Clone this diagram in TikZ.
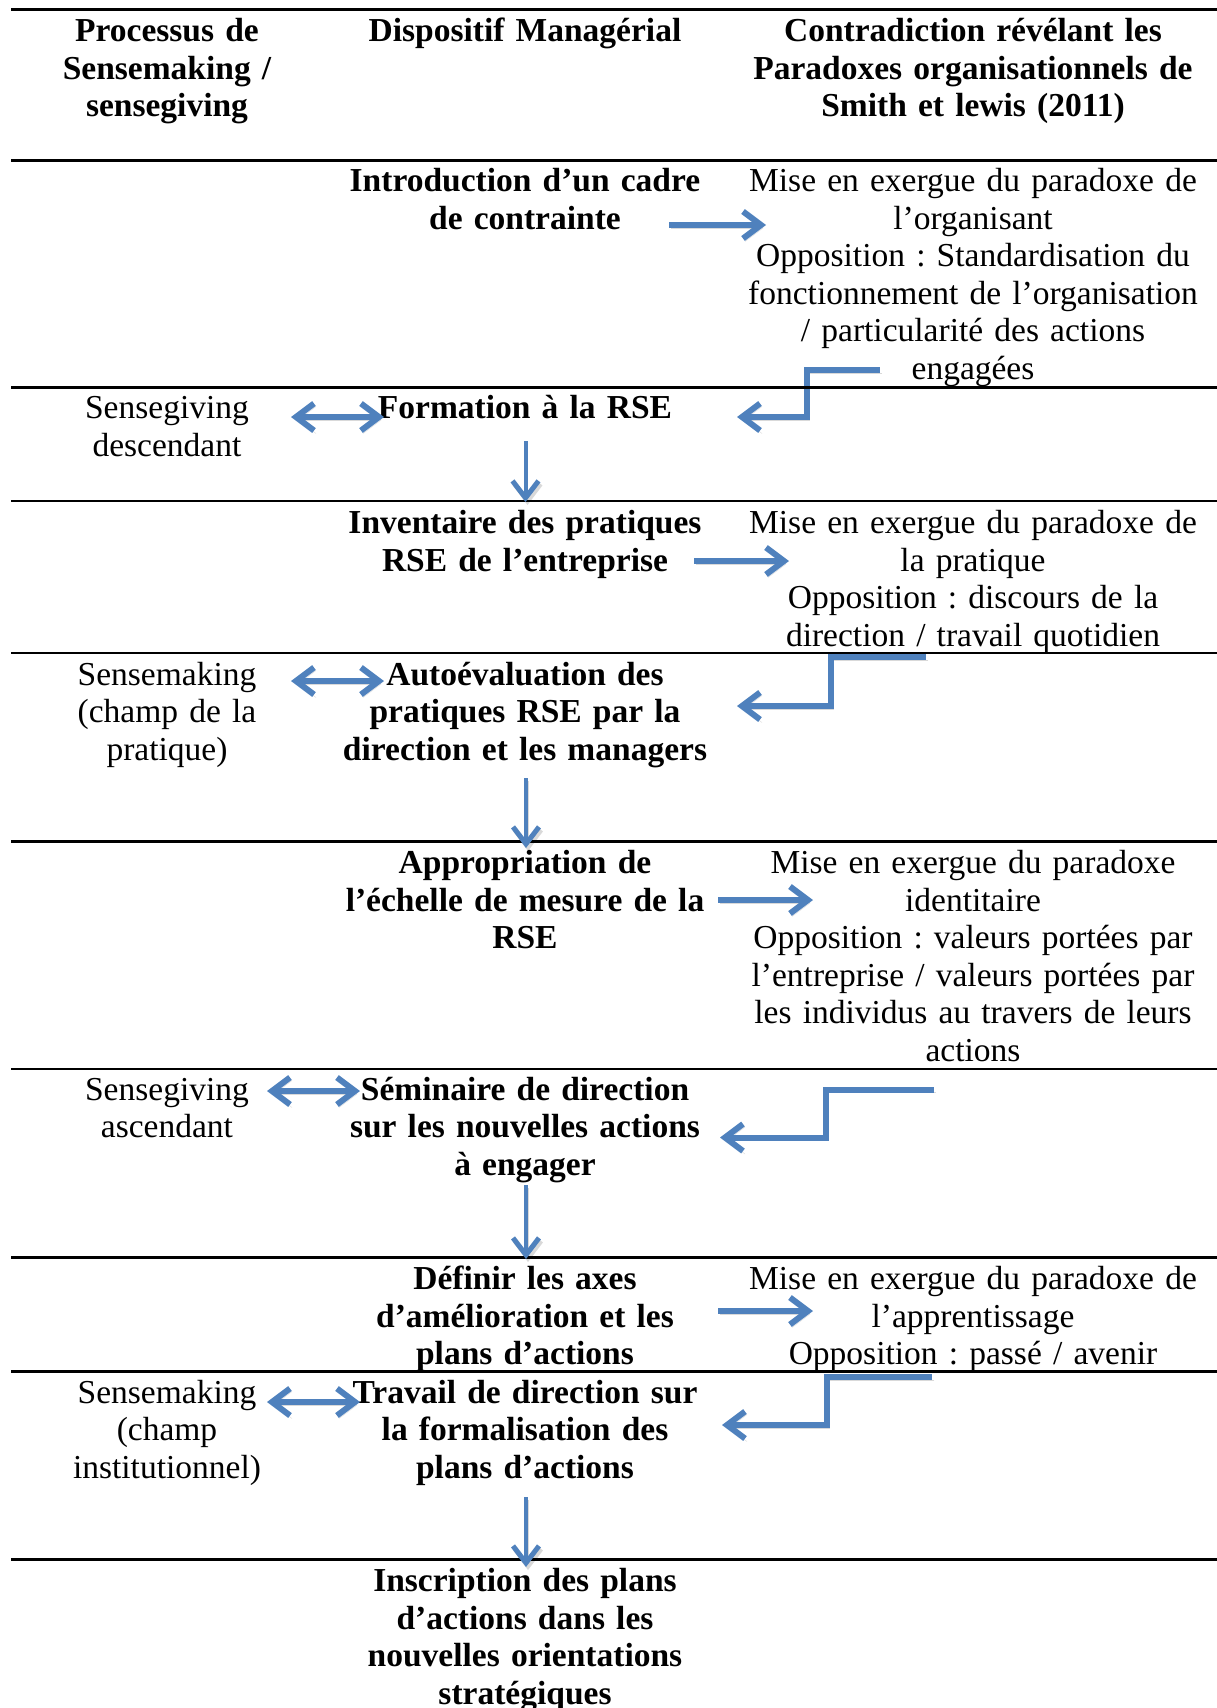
\documentclass[tikz,border=0pt]{standalone}
\usepackage{fontspec}
\setmainfont{Liberation Serif}
\frenchspacing
\usetikzlibrary{arrows.meta}
\definecolor{arrowblue}{HTML}{4F81BD}
\tikzset{
  txt/.style={text width=600pt, align=center, anchor=base, inner sep=0pt,
    font=\fontsize{33.5}{37.5}\selectfont},
  btxt/.style={txt, font=\fontsize{33.5}{37.5}\selectfont\bfseries},
  rowrule/.style={line width=2.8pt, black},
  shadowed/.style={preaction={draw=black, opacity=0.15, transform canvas={shift={(2,3)}}}},
  bigtip/.tip={Straight Barb[length=18pt,width=27pt,line width=6pt]},
  smalltip/.tip={Straight Barb[length=17pt,width=26pt,line width=5pt]},
  bigarrow/.style={draw=arrowblue, line width=6pt, -bigtip, shadowed},
  dblarrow/.style={draw=arrowblue, line width=6pt, bigtip-bigtip, shadowed},
  elbowarrow/.style={draw=arrowblue, line width=6pt, line join=miter, -bigtip, shadowed},
  downarrow/.style={draw=arrowblue, line width=4pt, -smalltip, shadowed}
}
\begin{document}
\begin{tikzpicture}[x=1pt, y=-1pt]
\useasboundingbox (0,0) rectangle (1217,1708);
\clip (0,0) rectangle (1217,1708);

% header
\node[btxt] (h1) at (167,41.5) {Processus de\\Sensemaking /\\sensegiving};
\node[btxt] (h2) at (525,41.5) {Dispositif Managérial};
\node[btxt] (h3) at (973,41.5) {Contradiction révélant les\\Paradoxes organisationnels de\\Smith et lewis (2011)};

% rows
\node[btxt] (d1) at (525,191.5) {Introduction d’un cadre\\de contrainte};
\node[txt]  (p1) at (973,191.5) {Mise en exergue du paradoxe de\\l’organisant\\Opposition : Standardisation du\\fonctionnement de l’organisation\\/ particularité des actions\\engagées};

\node[txt]  (s1) at (167,418.5) {Sensegiving\\descendant};
\node[btxt] (d2) at (525,418.5) {Formation à la RSE};

\node[btxt] (d3) at (525,533.5) {Inventaire des pratiques\\RSE de l’entreprise};
\node[txt]  (p2) at (973,533.5) {Mise en exergue du paradoxe de\\la pratique\\Opposition : discours de la\\direction / travail quotidien};

\node[txt]  (s2) at (167,685) {Sensemaking\\(champ de la\\pratique)};
\node[btxt] (d4) at (525,685) {Autoévaluation des\\pratiques RSE par la\\direction et les managers};

\node[btxt] (d5) at (525,873.5) {Appropriation de\\l’échelle de mesure de la\\RSE};
\node[txt]  (p3) at (973,873.5) {Mise en exergue du paradoxe\\identitaire\\Opposition : valeurs portées par\\l’entreprise / valeurs portées par\\les individus au travers de leurs\\actions};

\node[txt]  (s3) at (167,1100) {Sensegiving\\ascendant};
\node[btxt] (d6) at (525,1100) {Séminaire de direction\\sur les nouvelles actions\\à engager};

\node[btxt] (d7) at (525,1289.5) {Définir les axes\\d’amélioration et les\\plans d’actions};
\node[txt]  (p4) at (973,1289.5) {Mise en exergue du paradoxe de\\l’apprentissage\\Opposition : passé / avenir};

\node[txt]  (s4) at (167,1403) {Sensemaking\\(champ\\institutionnel)};
\node[btxt] (d8) at (525,1403) {Travail de direction sur\\la formalisation des\\plans d’actions};

\node[btxt] (d9) at (525,1591.5) {Inscription des plans\\d’actions dans les\\nouvelles orientations\\stratégiques};

% connector end points
\coordinate (r1a) at (669,225);   \coordinate (r1b) at (766,225);
\coordinate (r2a) at (694,561);   \coordinate (r2b) at (789,561);
\coordinate (r3a) at (718,900);   \coordinate (r3b) at (813,900);
\coordinate (r4a) at (718,1311);  \coordinate (r4b) at (813,1311);

\coordinate (e1a) at (880,370);   \coordinate (e1b) at (737,417);  \coordinate (e1x) at (807,0);
\coordinate (e2a) at (926,657);   \coordinate (e2b) at (737,706);  \coordinate (e2x) at (831,0);
\coordinate (e3a) at (934,1089.5);\coordinate (e3b) at (720,1137.5);\coordinate (e3x) at (826,0);
\coordinate (e4a) at (932,1377);  \coordinate (e4b) at (722,1425); \coordinate (e4x) at (827,0);

\coordinate (b1a) at (291,417);   \coordinate (b1b) at (384,417);
\coordinate (b2a) at (291,681);   \coordinate (b2b) at (384,681);
\coordinate (b3a) at (267,1091);  \coordinate (b3b) at (360,1091);
\coordinate (b4a) at (267,1402);  \coordinate (b4b) at (360,1402);

\coordinate (v1a) at (525.5,441); \coordinate (v1b) at (525.5,502);
\coordinate (v2a) at (526,778);   \coordinate (v2b) at (526,848);
\coordinate (v3a) at (526,1185);  \coordinate (v3b) at (526,1259);
\coordinate (v4a) at (526,1497);  \coordinate (v4b) at (526,1567);

% arrows
\draw[bigarrow] (r1a) -- (r1b);
\draw[bigarrow] (r2a) -- (r2b);
\draw[bigarrow] (r3a) -- (r3b);
\draw[bigarrow] (r4a) -- (r4b);

\draw[elbowarrow] (e1a) -- (e1a -| e1x) -- (e1b -| e1x) -- (e1b);
\draw[elbowarrow] (e2a) -- (e2a -| e2x) -- (e2b -| e2x) -- (e2b);
\draw[elbowarrow] (e3a) -- (e3a -| e3x) -- (e3b -| e3x) -- (e3b);
\draw[elbowarrow] (e4a) -- (e4a -| e4x) -- (e4b -| e4x) -- (e4b);

\draw[dblarrow] (b1a) -- (b1b);
\draw[dblarrow] (b2a) -- (b2b);
\draw[dblarrow] (b3a) -- (b3b);
\draw[dblarrow] (b4a) -- (b4b);

% row rules
\draw[rowrule, line width=3.2pt] (11,9.5) -- (1217,9.5);
\foreach \yy in {160.5,387.5,501,653,841.5,1069,1257.5,1371.5,1559.5}
  \draw[rowrule] (11,\yy) -- (1217,\yy);

\draw[downarrow] (v1a) -- (v1b);
\draw[downarrow] (v2a) -- (v2b);
\draw[downarrow] (v3a) -- (v3b);
\draw[downarrow] (v4a) -- (v4b);
\end{tikzpicture}
\end{document}
